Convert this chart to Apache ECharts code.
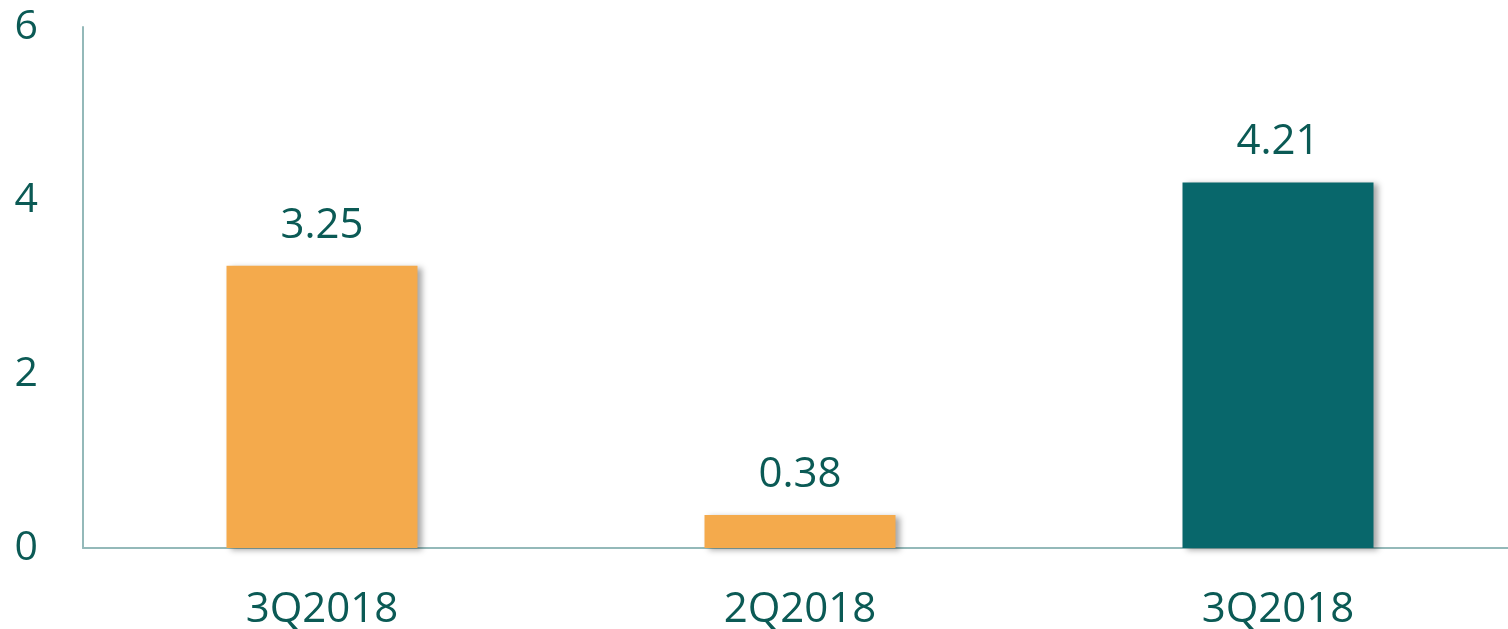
<!DOCTYPE html>
<html>
<head>
<meta charset="utf-8">
<script src="https://cdn.jsdelivr.net/npm/echarts@6/dist/echarts.min.js"></script>
<style>
  html, body { margin: 0; padding: 0; background: #fff; }
  #chart { width: 1508px; height: 629px; }
</style>
</head>
<body>
<div id="chart"></div>
<script>
// 数据
const categories = ['3Q2018', '2Q2018', '3Q2018'];
const values = [3.25, 0.38, 4.21];
const barColors = ['#F4AA4C', '#F4AA4C', '#08676B'];
const yTicks = [0, 2, 4, 6];

const textColor = '#0B5A55';
const fontFamily = '"Open Sans", "Noto Sans", sans-serif';

const chart = echarts.init(document.getElementById('chart'));

const option = {
    animation: false,
    // 轴线延伸到画面右边缘之外
    grid: { left: 83, width: 1434, top: 27, bottom: 81, outerBoundsMode: 'none' },
    xAxis: {
        type: 'category',
        data: categories,
        axisLine: { lineStyle: { color: '#94B9B9', width: 2 } },
        axisTick: { show: false },
        axisLabel: {
            color: textColor,
            fontSize: 42,
            fontFamily: fontFamily,
            margin: 41
        }
    },
    yAxis: {
        type: 'value',
        min: yTicks[0],
        max: yTicks[yTicks.length - 1],
        interval: 2,
        splitLine: { show: false },
        axisLine: { show: true, lineStyle: { color: '#94B9B9', width: 2 } },
        axisTick: { show: false },
        axisLabel: {
            color: textColor,
            fontSize: 41,
            fontFamily: fontFamily,
            margin: 45
        }
    },
    series: [{
        type: 'bar',
        barWidth: 191,
        data: values.map((v, i) => ({
            value: v,
            itemStyle: { color: barColors[i] }
        })),
        itemStyle: {
            shadowColor: 'rgba(0,0,0,0.35)',
            shadowBlur: 6,
            shadowOffsetX: 4,
            shadowOffsetY: 2
        },
        label: {
            show: true,
            position: 'top',
            distance: 19,
            color: textColor,
            fontSize: 42,
            fontFamily: fontFamily,
            formatter: p => p.value.toFixed(2)
        }
    }]
};

chart.setOption(option);
</script>
</body>
</html>
